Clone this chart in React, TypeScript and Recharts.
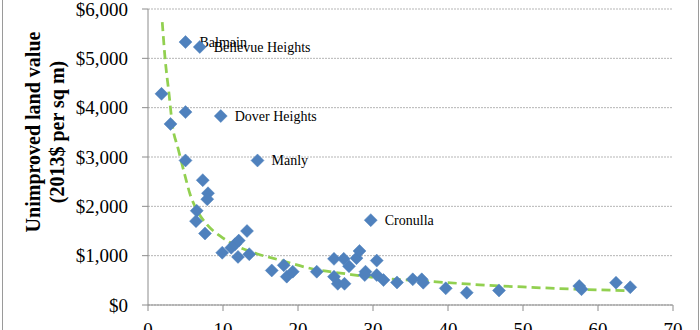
import React from "react";
import { ComposedChart, Scatter, Line, XAxis, YAxis, CartesianGrid, Label } from "recharts";

// Distance (km) of each suburb
const suburbDistance: number[] = [
  1.8, 3.0, 5.0, 6.9, 5.0, 9.7, 14.6, 5.0, 7.3, 8.0, 7.9, 6.5, 6.4, 7.6, 9.9,
  11.1, 11.6, 12.1, 12.0, 13.2, 13.5, 16.5, 18.1, 18.5, 19.3, 22.5, 24.8, 24.8,
  25.3, 26.1, 26.2, 26.8, 27.8, 28.2, 29.0, 28.9, 30.5, 30.5, 31.4, 33.2, 35.3,
  36.5, 36.7, 39.7, 42.5, 46.8, 57.5, 57.8, 62.4, 64.3, 29.7,
];
// Unimproved land value (2013$ per sq m)
const suburbValue: number[] = [
  4280, 3670, 5330, 5230, 3910, 3830, 2930, 2930, 2530, 2265, 2145, 1910, 1700, 1450, 1060,
  1160, 1230, 1305, 975, 1500, 1030, 700, 805, 575, 675, 675, 935, 575,
  430, 935, 430, 785, 950, 1095, 675, 607, 900, 607, 506, 457, 520,
  520, 452, 338, 250, 295, 385, 320, 452, 360, 1720,
];
// Labels of named suburbs ("" = unlabeled)
const suburbName: string[] = [
  "", "", "Balmain", "Bellevue Heights", "", "Dover Heights", "Manly", "", "", "", "", "", "", "", "",
  "", "", "", "", "", "", "", "", "", "", "", "", "",
  "", "", "", "", "", "", "", "", "", "", "", "", "",
  "", "", "", "", "", "", "", "", "", "Cronulla",
];

// Trend line
const trendX: number[] = [1.9, 2.3, 2.8, 3.25, 4.0, 4.9, 5.6, 6.5, 7.8, 9.6, 11.8, 14.5, 17.6, 22, 26.5, 31, 35.4, 39.8, 44.2, 50, 57.6, 64];
const trendY: number[] = [5735, 4960, 4285, 3650, 3180, 2640, 2250, 1930, 1640, 1400, 1200, 1040, 910, 730, 630, 545, 500, 455, 410, 365, 318, 290];

const xTicks: number[] = [0, 10, 20, 30, 40, 50, 60, 70];
const yTicks: number[] = [0, 1000, 2000, 3000, 4000, 5000, 6000];

const points = suburbDistance.map((x, i) => ({ x, y: suburbValue[i], name: suburbName[i] }));
const trend = trendX.map((x, i) => ({ x, y: trendY[i] }));

const FONT = "'Liberation Serif', 'Times New Roman', serif";
const BLUE = "#4F81BD";

const Diamond = (props: any) => {
  const { cx, cy, payload } = props;
  if (cx == null || cy == null) return null;
  const r = 6.5;
  return (
    <g>
      <polygon
        points={`${cx},${cy - r} ${cx + r},${cy} ${cx},${cy + r} ${cx - r},${cy}`}
        fill={BLUE}
        stroke={BLUE}
        strokeWidth={0.5}
      />
      {payload && payload.name ? (
        <text x={cx + 14} y={cy + 5} fontFamily={FONT} fontSize={14} fill="#000">
          {payload.name}
        </text>
      ) : null}
    </g>
  );
};

const YTitle = () => (
  <g>
    <text
      x={40}
      y={132}
      transform="rotate(-90, 40, 132)"
      textAnchor="middle"
      fontFamily={FONT}
      fontWeight="bold"
      fontSize={20}
      fill="#000"
    >
      Unimproved land value
    </text>
    <text
      x={64}
      y={132}
      transform="rotate(-90, 64, 132)"
      textAnchor="middle"
      fontFamily={FONT}
      fontWeight="bold"
      fontSize={20}
      fill="#000"
    >
      (2013$ per sq m)
    </text>
  </g>
);

const fmt = (v: number) => "$" + v.toLocaleString("en-US");

export default function App() {
  return (
    <div style={{ position: "absolute", left: 0, top: 0, width: 700, height: 330, background: "#fff", overflow: "hidden" }}>
      <div style={{ position: "absolute", left: 2, top: 0, width: 1, height: 330, background: "#9a9a9a" }} />
      <div style={{ position: "absolute", left: 698, top: 0, width: 1, height: 330, background: "#9a9a9a" }} />
      <ComposedChart
        width={700}
        height={330}
        margin={{ top: 9, right: 27, bottom: 0, left: 0 }}
        style={{ position: "absolute", left: 0, top: 0 }}
      >
        <CartesianGrid horizontal vertical={false} stroke="#b5b5b5" strokeDasharray="2 1" />
        <XAxis
          type="number"
          dataKey="x"
          domain={[0, 70]}
          ticks={xTicks}
          interval={0}
          height={25}
          tickSize={6}
          tickMargin={12}
          stroke="#8c8c8c"
          tick={{ fontFamily: FONT, fontSize: 19, fill: "#000" }}
          allowDataOverflow
        />
        <YAxis
          type="number"
          dataKey="y"
          domain={[0, 6000]}
          ticks={yTicks}
          interval={0}
          width={148}
          tickSize={6}
          tickMargin={14}
          stroke="#8c8c8c"
          tickFormatter={fmt}
          tick={{ fontFamily: FONT, fontSize: 19, fill: "#000" }}
        >
          <Label content={YTitle} />
        </YAxis>
        <Line
          data={trend}
          dataKey="y"
          type="monotone"
          stroke="#92D050"
          strokeWidth={2.75}
          strokeDasharray="9 5"
          dot={false}
          activeDot={false}
          isAnimationActive={false}
        />
        <Scatter data={points} dataKey="y" shape={Diamond} isAnimationActive={false} />
      </ComposedChart>
    </div>
  );
}
